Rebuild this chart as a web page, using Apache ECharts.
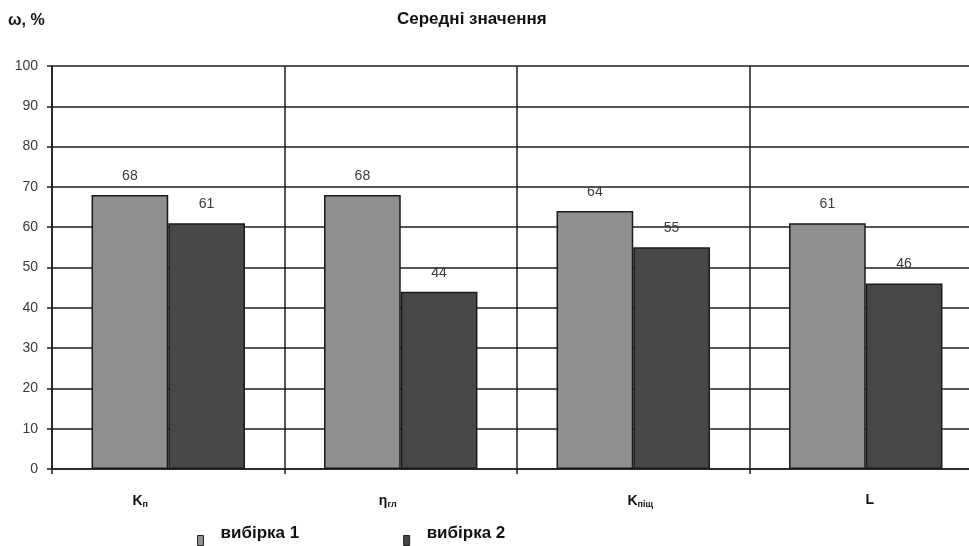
<!DOCTYPE html>
<html>
<head>
<meta charset="utf-8">
<script src="https://cdn.jsdelivr.net/npm/echarts@6/dist/echarts.min.js"></script>
<style>
  html, body { margin: 0; padding: 0; background: #fff; overflow: hidden; }
  /* the plot runs a little past the right edge of the page */
  #chart { width: 990px; height: 546px; }
</style>
</head>
<body>
<div id="chart"></div>
<script>
// Indicator categories (main letter + subscript), two sample series
const categories = ['Kп', 'ηгл', 'Kпіщ', 'L'];
const categoryMain = ['K', 'η', 'K', 'L'];
const categorySub = ['п', 'гл', 'піщ', ''];
const sample1 = [68, 68, 64, 61];
const sample2 = [61, 44, 55, 46];
const seriesNames = ['вибірка 1', 'вибірка 2'];
const yTicks = [0, 10, 20, 30, 40, 50, 60, 70, 80, 90, 100];

// horizontal nudge of each category label (px, negative = left)
const labelShift = [-28, -13, 7, 4];

const FONT = '"Liberation Sans", Arial, sans-serif';
const INK = '#111';
const LINE = '#1e1e1e';

const chart = echarts.init(document.getElementById('chart'));

const xData = categories.map(function (c, i) {
  const s = labelShift[i];
  return {
    value: c,
    textStyle: { padding: s < 0 ? [0, -2 * s, 0, 0] : [0, 0, 0, 2 * s] }
  };
});

chart.setOption({
  backgroundColor: '#ffffff',
  animation: false,
  title: [
    { text: 'ω, %', left: 8, top: 13, padding: 0,
      textStyle: { fontFamily: FONT, fontSize: 16, fontWeight: 'bold', color: INK } },
    { text: 'Середні значення', left: 397, top: 11, padding: 0,
      textStyle: { fontFamily: FONT, fontSize: 17, fontWeight: 'bold', color: INK } }
  ],
  legend: {
    left: 197, top: 525, padding: 0,
    itemWidth: 6, itemHeight: 10,
    itemGap: 104,
    icon: 'rect',
    data: seriesNames,
    itemStyle: { borderColor: '#222', borderWidth: 1 },
    formatter: function (n) { return '{t|' + n + '}'; },
    textStyle: {
      rich: {
        t: { fontFamily: FONT, fontSize: 17, fontWeight: 'bold', color: INK,
             padding: [0, 0, 14, 12] }
      }
    }
  },
  grid: { left: 52, right: 8, top: 66, bottom: 77 },
  xAxis: {
    type: 'category',
    data: xData,
    boundaryGap: true,
    axisLine: { lineStyle: { color: LINE, width: 1.5 } },
    axisTick: { show: true, length: 5, lineStyle: { color: LINE, width: 1.5 } },
    splitLine: { show: true, lineStyle: { color: LINE, width: 1.5 } },
    axisLabel: {
      margin: 24,
      formatter: function (v, i) {
        return '{m|' + categoryMain[i] + '}' + (categorySub[i] ? '{s|' + categorySub[i] + '}' : '');
      },
      rich: {
        m: { fontFamily: FONT, fontSize: 14, fontWeight: 'bold', color: INK },
        s: { fontFamily: FONT, fontSize: 9, fontWeight: 'bold', color: INK, padding: [7, 0, 0, 0] }
      }
    }
  },
  yAxis: {
    type: 'value',
    min: 0, max: 100, interval: 10,
    axisLine: { show: true, lineStyle: { color: LINE, width: 1.5 } },
    axisTick: { show: true, length: 5, lineStyle: { color: LINE, width: 1.5 } },
    splitLine: { show: true, lineStyle: { color: LINE, width: 1.5 } },
    axisLabel: {
      margin: 14,
      fontFamily: FONT, fontSize: 14, color: '#3a3a3a',
      formatter: function (v) { return yTicks.indexOf(v) >= 0 ? String(v) : ''; }
    }
  },
  series: [
    {
      name: seriesNames[0], type: 'bar', data: sample1,
      barWidth: '33%', barGap: '0%',
      itemStyle: { color: '#8f8f8f', borderColor: '#1a1a1a', borderWidth: 1.5 },
      label: { show: true, position: 'top', distance: 12,
        fontFamily: FONT, fontSize: 14, color: '#3a3a3a' }
    },
    {
      name: seriesNames[1], type: 'bar', data: sample2,
      barWidth: '33%', barGap: '0%',
      itemStyle: { color: '#474747', borderColor: '#1a1a1a', borderWidth: 1.5 },
      label: { show: true, position: 'top', distance: 12,
        fontFamily: FONT, fontSize: 14, color: '#3a3a3a' }
    }
  ]
});
</script>
</body>
</html>
